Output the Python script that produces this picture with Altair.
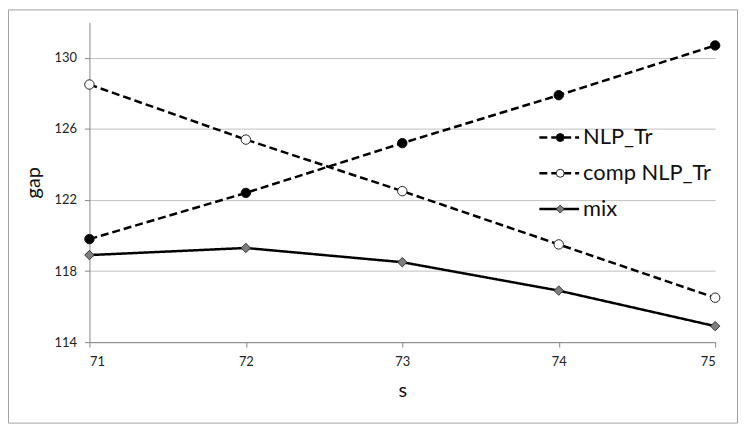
import altair as alt
import pandas as pd

s_values = [71, 72, 73, 74, 75]
nlp_tr = [119.8, 122.4, 125.2, 127.9, 130.7]
comp_nlp_tr = [128.5, 125.4, 122.5, 119.5, 116.5]
mix = [118.9, 119.3, 118.5, 116.9, 114.9]
series_names = ["NLP_Tr", "comp NLP_Tr", "mix"]
marker_names = [n + " marker" for n in series_names]
y_ticks = [114, 118, 122, 126, 130]
dash_range = [[8, 4], [8, 4], [1, 0]]
shape_range = ["circle", "circle", "diamond"]
fill_range = ["#000000", "#ffffff", "#7f7f7f"]
stroke_range = ["#111111", "#222222", "#333333"]

rows = []
for name, mname, vals in zip(series_names, marker_names, [nlp_tr, comp_nlp_tr, mix]):
    for s, v in zip(s_values, vals):
        rows.append({"s": s, "gap": v, "series": name, "marker": mname})
df = pd.DataFrame(rows)

FONT = "Lato"
W, H = 630, 322
PL, PT, PR, PB = 82, 13, 24, 83

x = alt.X(
    "s:Q",
    scale=alt.Scale(domain=[71, 75], nice=False, zero=False),
    axis=alt.Axis(
        values=s_values, format="d", title="s", grid=False,
        domainColor="#868686", tickColor="#868686", tickSize=5,
        labelFont=FONT, labelFontSize=13, labelColor="#222222", labelPadding=9,
        titleFont=FONT, titleFontSize=20, titleFontWeight="normal",
        titleColor="#111111", titlePadding=12,
    ),
)
y = alt.Y(
    "gap:Q",
    scale=alt.Scale(domain=[114, 132], nice=False, zero=False),
    axis=alt.Axis(
        values=y_ticks, title="gap", grid=True, gridColor="#c0c0c0",
        domainColor="#868686", tickColor="#868686", tickSize=5,
        labelFont=FONT, labelFontSize=13, labelColor="#222222", labelPadding=8,
        titleFont=FONT, titleFontSize=20, titleFontWeight="normal",
        titleColor="#111111", titlePadding=11,
    ),
)

LX, LY = 462, 105

lines = alt.Chart(df).mark_line(strokeWidth=2.5, color="black").encode(
    x=x,
    y=y,
    strokeDash=alt.StrokeDash(
        "series:N",
        scale=alt.Scale(domain=series_names, range=dash_range),
        legend=alt.Legend(
            orient="none", legendX=LX, legendY=LY, title=None,
            symbolType="M-5,0L5,0", symbolSize=64, symbolStrokeWidth=2.5,
            symbolStrokeColor="black",
            labelFont=FONT, labelFontSize=22, labelColor="#111111",
            labelOffset=13, rowPadding=14, padding=0,
        ),
    ),
)

marker_legend = alt.Legend(
    orient="none", legendX=LX + 1, legendY=LY, title=None,
    symbolSize=64, symbolStrokeWidth=1,
    labelFont=FONT, labelFontSize=22, labelExpr="''",
    labelOffset=13, rowPadding=14, padding=0,
)

points = alt.Chart(df).mark_point(
    filled=True, size=90, strokeWidth=1, opacity=1
).encode(
    x=x,
    y=y,
    shape=alt.Shape("marker:N", scale=alt.Scale(domain=marker_names, range=shape_range),
                    legend=marker_legend),
    fill=alt.Fill("marker:N", scale=alt.Scale(domain=marker_names, range=fill_range),
                  legend=marker_legend),
    stroke=alt.Stroke("marker:N", scale=alt.Scale(domain=marker_names, range=stroke_range),
                      legend=marker_legend),
)

frame = alt.Chart(pd.DataFrame({"k": [0]})).mark_rect(
    fillOpacity=0, stroke="#a0a0a0", strokeWidth=1
).encode(
    x=alt.value(-PL + 0.5), x2=alt.value(W + PR - 1.5),
    y=alt.value(-PT + 0.5), y2=alt.value(H + PB - 1.5),
)

chart = alt.layer(frame, lines, points).properties(
    width=W, height=H,
    autosize=alt.AutoSizeParams(type="none"),
    padding={"left": PL, "top": PT, "right": PR, "bottom": PB},
    background="white",
).configure_view(stroke=None)

chart.save("out.html", embed_options={"renderer": "svg", "actions": False})
